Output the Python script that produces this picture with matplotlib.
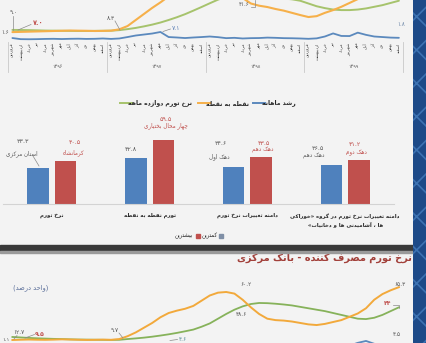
import matplotlib
matplotlib.use("Agg")
import matplotlib.pyplot as plt
import matplotlib.transforms as mtransforms
from matplotlib.patches import Rectangle
from matplotlib.lines import Line2D
import numpy as np

plt.rcParams['font.family'] = ['DejaVu Sans']
plt.rcParams['hatch.linewidth'] = 1.2

# ---------------- Arabic/Persian shaping helpers ----------------
FORMS = {
    'ا': (0xFE8D, 0xFE8E, None, None), 'آ': (0xFE81, 0xFE82, None, None),
    'ب': (0xFE8F, 0xFE90, 0xFE91, 0xFE92), 'پ': (0xFB56, 0xFB57, 0xFB58, 0xFB59),
    'ت': (0xFE95, 0xFE96, 0xFE97, 0xFE98), 'ث': (0xFE99, 0xFE9A, 0xFE9B, 0xFE9C),
    'ج': (0xFE9D, 0xFE9E, 0xFE9F, 0xFEA0), 'چ': (0xFB7A, 0xFB7B, 0xFB7C, 0xFB7D),
    'ح': (0xFEA1, 0xFEA2, 0xFEA3, 0xFEA4), 'خ': (0xFEA5, 0xFEA6, 0xFEA7, 0xFEA8),
    'د': (0xFEA9, 0xFEAA, None, None), 'ذ': (0xFEAB, 0xFEAC, None, None),
    'ر': (0xFEAD, 0xFEAE, None, None), 'ز': (0xFEAF, 0xFEB0, None, None),
    'ژ': (0xFB8A, 0xFB8B, None, None),
    'س': (0xFEB1, 0xFEB2, 0xFEB3, 0xFEB4), 'ش': (0xFEB5, 0xFEB6, 0xFEB7, 0xFEB8),
    'ص': (0xFEB9, 0xFEBA, 0xFEBB, 0xFEBC), 'ض': (0xFEBD, 0xFEBE, 0xFEBF, 0xFEC0),
    'ط': (0xFEC1, 0xFEC2, 0xFEC3, 0xFEC4), 'ظ': (0xFEC5, 0xFEC6, 0xFEC7, 0xFEC8),
    'ع': (0xFEC9, 0xFECA, 0xFECB, 0xFECC), 'غ': (0xFECD, 0xFECE, 0xFECF, 0xFED0),
    'ف': (0xFED1, 0xFED2, 0xFED3, 0xFED4), 'ق': (0xFED5, 0xFED6, 0xFED7, 0xFED8),
    'ک': (0xFB8E, 0xFB8F, 0xFB90, 0xFB91), 'گ': (0xFB92, 0xFB93, 0xFB94, 0xFB95),
    'ل': (0xFEDD, 0xFEDE, 0xFEDF, 0xFEE0), 'م': (0xFEE1, 0xFEE2, 0xFEE3, 0xFEE4),
    'ن': (0xFEE5, 0xFEE6, 0xFEE7, 0xFEE8), 'ه': (0xFEE9, 0xFEEA, 0xFEEB, 0xFEEC),
    'و': (0xFEED, 0xFEEE, None, None), 'ی': (0xFBFC, 0xFBFD, 0xFBFE, 0xFBFF),
}
DUAL = {c for c, f in FORMS.items() if f[2] is not None}
MIRROR = {'(': ')', ')': '(', '«': '»', '»': '«'}


def _shape_line(s):
    out = []
    n = len(s)
    for i, c in enumerate(s):
        if c not in FORMS:
            out.append(c)
            continue
        prev = s[i - 1] if i > 0 else ''
        nxt = s[i + 1] if i + 1 < n else ''
        pc = prev in DUAL
        nc = (c in DUAL) and (nxt in FORMS)
        iso, fin, ini, med = FORMS[c]
        g = med if (pc and nc) else fin if pc else ini if nc else iso
        out.append(chr(g))
    out = [c for c in out if c != '\u200c']
    return ''.join(MIRROR.get(c, c) for c in reversed(out))


def fa_text(s):
    return '\n'.join(_shape_line(line) for line in s.split('\n'))


def fa_num(v, dec=1):
    s = f"{v:.{dec}f}"
    return s.translate(str.maketrans('0123456789', '۰۱۲۳۴۵۶۷۸۹'))


# ---------------- Data ----------------
months = ['فروردین', 'اردیبهشت', 'خرداد', 'تیر', 'مرداد', 'شهریور',
          'مهر', 'آبان', 'آذر', 'دی', 'بهمن', 'اسفند']
years = ['۱۳۹۶', '۱۳۹۷', '۱۳۹۸', '۱۳۹۹']

# top chart (provincial CPI)
top_monthly = [1.6, 0.6, 0.5, 0.6, 0.8, 0.9, 0.7, 0.9, 1.0, 0.8, 0.9, 1.2,
               0.8, 1.2, 2.5, 3.9, 4.8, 5.7, 7.1, 2.5, 2.1, 1.6, 2.1, 2.5,
               3.0, 2.4, 1.5, 1.8, 1.2, 1.5, 1.6, 2.0, 1.8, 1.5, 1.4, 1.2,
               0.9, 1.3, 3.0, 5.8, 3.5, 3.4, 6.5, 4.5, 3.0, 2.5, 2.0, 1.8]
top_p2p = [7.0, 7.2, 7.4, 7.6, 7.8, 8.0, 8.2, 8.4, 8.3, 8.2, 8.0, 8.1,
           8.3, 9.5, 12.5, 18.0, 23.5, 29.0, 34.0, 39.5, 45.0, 48.0, 48.5, 47.0,
           51.0, 52.1, 48.0, 46.0, 38.0, 33.0, 31.0, 29.8, 28.0, 26.5, 24.5, 22.5,
           20.7, 21.5, 24.5, 27.0, 30.0, 33.5, 37.0, 41.0, 44.0, 46.0, 47.0, 48.0]
top_12m = [9.0, 8.9, 8.8, 8.6, 8.4, 8.3, 8.2, 8.1, 8.0, 8.0, 8.1, 8.2,
           8.3, 8.8, 9.7, 10.8, 12.2, 13.8, 15.7, 18.0, 20.5, 23.3, 26.5, 29.8,
           33.2, 36.5, 39.0, 40.5, 41.6, 41.5, 41.0, 40.0, 38.5, 37.5, 36.8, 35.5,
           33.0, 30.5, 28.8, 27.5, 27.0, 27.0, 27.5, 28.5, 30.0, 31.5, 33.5, 35.5]

# bar chart
bar_categories = ['نرخ تورم', 'تورم نقطه به نقطه', 'دامنه تغییرات نرخ تورم',
                  'دامنه تغییرات نرخ تورم در گروه «خوراکی\nها ، آشامیدنی ها و دخانیات»']
min_values = [33.3, 42.8, 34.6, 36.5]
max_values = [40.5, 59.5, 43.5, 41.2]
min_names = ['استان مرکزی', '', 'دهک اول', 'دهک دهم']
max_names = ['کرمانشاه', 'چهار محال بختیاری', 'دهک دهم', 'دهک دوم']
bar_legend = ['کمترین', 'بیشترین']

# bottom chart (central bank CPI)
cb_monthly = [1.1, 0.9, 0.8, 0.7, 0.8, 1.0, 0.9, 1.0, 1.1, 0.9, 1.0, 1.3,
              1.2, 1.5, 2.6, 3.4, 3.8, 4.2, 3.6, 3.1, 4.6, 2.9, 2.2, 2.0,
              2.4, 2.1, 1.6, 1.8, 1.4, 1.6, 1.5, 1.8, 1.6, 1.5, 1.4, 1.2,
              0.9, 1.3, 2.8, 4.5, 3.2, 3.5, 6.5, 8.5, 5.5, 4.0, 3.8, 4.5]
cb_p2p = [9.5, 9.8, 10.0, 9.8, 9.7, 9.9, 10.2, 10.0, 9.8, 9.6, 9.7, 9.9,
          9.7, 10.5, 13.5, 17.5, 22.5, 27.5, 33.5, 38.0, 40.5, 42.5, 45.5, 51.0,
          56.5, 59.5, 60.2, 58.5, 52.0, 44.0, 37.0, 32.0, 30.5, 30.0, 29.0, 27.5,
          26.0, 25.3, 26.5, 28.5, 30.5, 34.0, 37.5, 43.0, 52.0, 58.0, 62.0, 65.3]
cb_12m = [12.7, 12.2, 11.7, 11.3, 11.0, 10.7, 10.5, 10.2, 10.0, 9.9, 9.8, 9.7,
          9.6, 9.7, 10.5, 11.2, 12.0, 13.0, 14.2, 15.5, 17.0, 18.7, 20.5, 23.5,
          27.0, 32.0, 37.0, 41.5, 45.0, 47.5, 48.6, 48.4, 47.8, 47.0, 46.0, 44.5,
          43.0, 41.5, 40.0, 38.0, 36.0, 34.0, 32.0, 31.6, 33.0, 36.0, 40.0, 44.0]

legend_labels = ['رشد ماهانه', 'نقطه به نقطه', 'نرخ تورم دوازده ماهه']
title_bottom = 'نرخ تورم مصرف کننده - بانک مرکزی'
unit_label = '(واحد درصد)'

# ---------------- Figure ----------------
W, H = 426, 343
BG = '#f3f3f3'
fig = plt.figure(figsize=(W / 100, H / 100), dpi=100, facecolor=BG)


def fx(x):
    return x / W


def fy(y):
    return 1 - y / H


def ftext(x, y, s, **kw):
    kw.setdefault('ha', 'center')
    kw.setdefault('va', 'center')
    return fig.text(fx(x), fy(y), s, **kw)


def fline(xs, ys, **kw):
    fig.add_artist(Line2D([fx(v) for v in xs], [fy(v) for v in ys],
                          transform=fig.transFigure, **kw))


def px_axes(x0, y0, x1, y1):
    ax = fig.add_axes([fx(x0), fy(y1), (x1 - x0) / W, (y1 - y0) / H])
    ax.patch.set_alpha(0)
    return ax


BLUE_L, ORANGE_L, GREEN_L = '#5b89bd', '#f6b04a', '#a6c36c'
DARK = '#595959'
RED = '#c0504d'

# ---------- top line chart ----------
ax1 = px_axes(8.3, 0, 403, 41)
idx = np.arange(len(top_monthly))
ax1.set_xlim(-0.5, 47.5)
ax1.set_ylim(-1.09, 36.18)
ax1.axis('off')
ax1.plot(idx, top_12m, color=GREEN_L, lw=1.4, solid_capstyle='round')
ax1.plot(idx, top_p2p, color=ORANGE_L, lw=1.5, solid_capstyle='round')
ax1.plot(idx, top_monthly, color=BLUE_L, lw=1.3, solid_capstyle='round')

tb = mtransforms.blended_transform_factory(ax1.transData, fig.transFigure)
for k in range(len(years)):
    for m, name in enumerate(months):
        ax1.text(12 * k + m, fy(42.5), fa_text(name), transform=tb, rotation=90,
                 ha='center', va='top', fontsize=3.1, color='#404040', clip_on=False)
    ax1.text(12 * k + 5.5, fy(67), years[k], transform=tb, ha='center', va='center',
             fontsize=3.4, color=DARK, clip_on=False)
for b in [-0.5, 11.5, 23.5, 35.5, 47.5]:
    ax1.add_line(Line2D([b, b], [fy(42), fy(72)], transform=tb, color='#c9c9c9',
                        lw=0.6, clip_on=False))

# annotations in top chart
ftext(14, 12, fa_num(top_12m[0]), fontsize=4.2, color=DARK)
fline([13, 13], [15.5, 29.5], color='#8a8a8a', lw=0.5)
ftext(38, 23, fa_num(top_p2p[0]), fontsize=4.8, color=RED, fontweight='bold')
fline([31, 18], [24.5, 30], color='#8a8a8a', lw=0.5)
ftext(5, 33, fa_num(top_monthly[0]), fontsize=4.0, color=DARK)
ftext(111, 19, fa_num(top_p2p[12]), fontsize=4.2, color=DARK)
fline([115, 120], [21, 30], color='#8a8a8a', lw=0.5)
ftext(176, 28, fa_num(top_monthly[18]), fontsize=4.4, color='#5b7fb5')
fline([170.5, 163], [29, 31.5], color='#8a8a8a', lw=0.5)
ftext(244, 5, fa_num(max(top_12m)), fontsize=4.0, color=DARK)
fline([250.5, 255, 255], [7, 7, 0], color='#8a8a8a', lw=0.5)
ftext(401, 24, fa_num(top_monthly[-1]), fontsize=4.0, color='#6d87a8')

# top legend
leg_items = [(legend_labels[2], GREEN_L, 120, 132, 160),
             (legend_labels[1], ORANGE_L, 198, 210, 227),
             (legend_labels[0], BLUE_L, 253, 265, 279)]
for lab, col, l0, l1, tc in leg_items:
    fline([l0, l1], [103, 103], color=col, lw=1.4)
    ftext(tc, 103, fa_text(lab), fontsize=4.4, color='#262626', fontweight='bold')

# ---------- bar chart ----------
ax2 = px_axes(3, 128, 394, 204.3)
ax2.set_xlim(-0.5, 3.5)
ax2.set_ylim(0, 76.3 / 1.08)
for s in ['top', 'left', 'right']:
    ax2.spines[s].set_visible(False)
ax2.spines['bottom'].set_color('#d3d3d3')
ax2.spines['bottom'].set_linewidth(0.8)
ax2.set_xticks([])
ax2.set_yticks([])
g = np.arange(len(bar_categories))
BW, OFF = 0.22, 0.14
BAR_BLUE, BAR_RED = '#4f81bd', '#c0504d'
ax2.bar(g - OFF, min_values, width=BW, color=BAR_BLUE)
ax2.bar(g + OFF, max_values, width=BW, color=BAR_RED)

PXU = 97.75  # px per group unit
PYU = 1.08   # px per value unit
# label offsets (px) relative to bar centre / bar top: (value dx, value dy, name dx, name dy)
min_off = [(-15.5, -27, -16.5, -15), (-5, -9, 0, 0), (-13, -23, -14, -10), (-13.5, -16, -17.5, -10)]
max_off = [(9, -17.6, 8, -7.6), (3, -21, 3, -14), (2.5, -14, 1.5, -8), (-3.5, -15, -2.5, -7)]
for i in range(len(bar_categories)):
    for vals, names, offs, sign, vcol, ncol in [
            (min_values, min_names, min_off, -1, DARK, DARK),
            (max_values, max_names, max_off, 1, RED, RED)]:
        v = vals[i]
        xc = i + sign * OFF
        vdx, vdy, ndx, ndy = offs[i]
        ax2.text(xc + vdx / PXU, v - vdy / PYU, fa_num(v), ha='center', va='center',
                 fontsize=4.6, color=vcol, clip_on=False)
        if names[i]:
            ax2.text(xc + ndx / PXU, v - ndy / PYU, fa_text(names[i]), ha='center',
                     va='center', fontsize=4.1, color=ncol, clip_on=False)
# small leader for first min label
fline([33, 39], [156, 166], color='#8a8a8a', lw=0.5)

bt = mtransforms.blended_transform_factory(ax2.transData, fig.transFigure)
for i, cat in enumerate(bar_categories):
    ax2.text(i, fy(213), fa_text(cat), transform=bt, ha='center', va='top',
             fontsize=3.9, fontweight='bold', color='#262626', linespacing=1.6,
             clip_on=False)

# bar legend
ftext(184, 236, fa_text(bar_legend[1]), fontsize=4.0, color='#262626')
fig.add_artist(Rectangle((fx(195.5), fy(238.3)), 4.2 / W, 4.2 / H, transform=fig.transFigure,
                         color=BAR_RED))
ftext(209.5, 236, fa_text(bar_legend[0]), fontsize=4.0, color='#262626')
fig.add_artist(Rectangle((fx(219), fy(238.3)), 4.2 / W, 4.2 / H, transform=fig.transFigure,
                         color='#7f8fa6'))

# dark band
fig.add_artist(Rectangle((0, fy(251)), 413 / W, 6 / H, transform=fig.transFigure,
                         color='#393939', zorder=5))
fig.add_artist(Rectangle((0, fy(252.5)), 413 / W, 1.5 / H, transform=fig.transFigure,
                         color='#9a9a9a', zorder=5))

# ---------- bottom chart ----------
ftext(412, 258, fa_text(title_bottom), ha='right', fontsize=7.0, color='#a2403a',
      fontweight='bold')
ftext(31, 288, fa_text(unit_label), fontsize=4.8, color='#5b6f9a')

ax3 = px_axes(8.3, 262, 403, 349)
ax3.set_xlim(-0.5, 47.5)
ax3.set_ylim(0, 87 / 0.947)
ax3.axis('off')
ax3.plot(idx, cb_12m, color='#86b25a', lw=1.3)
ax3.plot(idx, cb_p2p, color='#f2a93b', lw=1.4)
ax3.plot(idx, cb_monthly, color=BLUE_L, lw=1.3)

ftext(19, 332.5, fa_num(cb_12m[0]), fontsize=4.2, color=DARK)
fline([17, 14], [335.5, 339], color='#8a8a8a', lw=0.5)
ftext(40, 334, fa_num(cb_p2p[0]), fontsize=4.4, color=RED, fontweight='bold')
fline([34.5, 25], [334.5, 338], color='#8a8a8a', lw=0.5)
ftext(5.5, 339.5, fa_num(cb_monthly[0]), fontsize=3.8, color=DARK)
ftext(115, 331, fa_num(cb_p2p[12]), fontsize=4.2, color=DARK)
fline([119, 123], [333, 338], color='#8a8a8a', lw=0.5)
ftext(183, 339.5, fa_num(cb_monthly[20]), fontsize=4.2, color='#5b8f9a')
fline([170, 177.5], [340.5, 339.5], color='#8a8a8a', lw=0.5)
ftext(246, 285, fa_num(max(cb_p2p[:36])), fontsize=4.2, color=DARK)
ftext(241, 315, fa_num(max(cb_12m)), fontsize=4.2, color=DARK)
ftext(400, 285, fa_num(cb_p2p[-1]), fontsize=4.2, color=DARK)
ftext(388, 303.5, fa_num(cb_12m[-1], 0), fontsize=4.4, color=RED, fontweight='bold')
fline([393, 399, 399], [304.5, 304.5, 308], color='#8a8a8a', lw=0.5)
ftext(397, 335, fa_num(cb_monthly[-1]), fontsize=4.2, color=DARK)

# right decorative strip
fig.add_artist(Rectangle((fx(413), 0), 13 / W, 1, transform=fig.transFigure,
                         facecolor='#1d4a88', edgecolor='#3c72b2', hatch='x', lw=0,
                         zorder=10))

fig.savefig('out.png', dpi=100, facecolor=BG)
